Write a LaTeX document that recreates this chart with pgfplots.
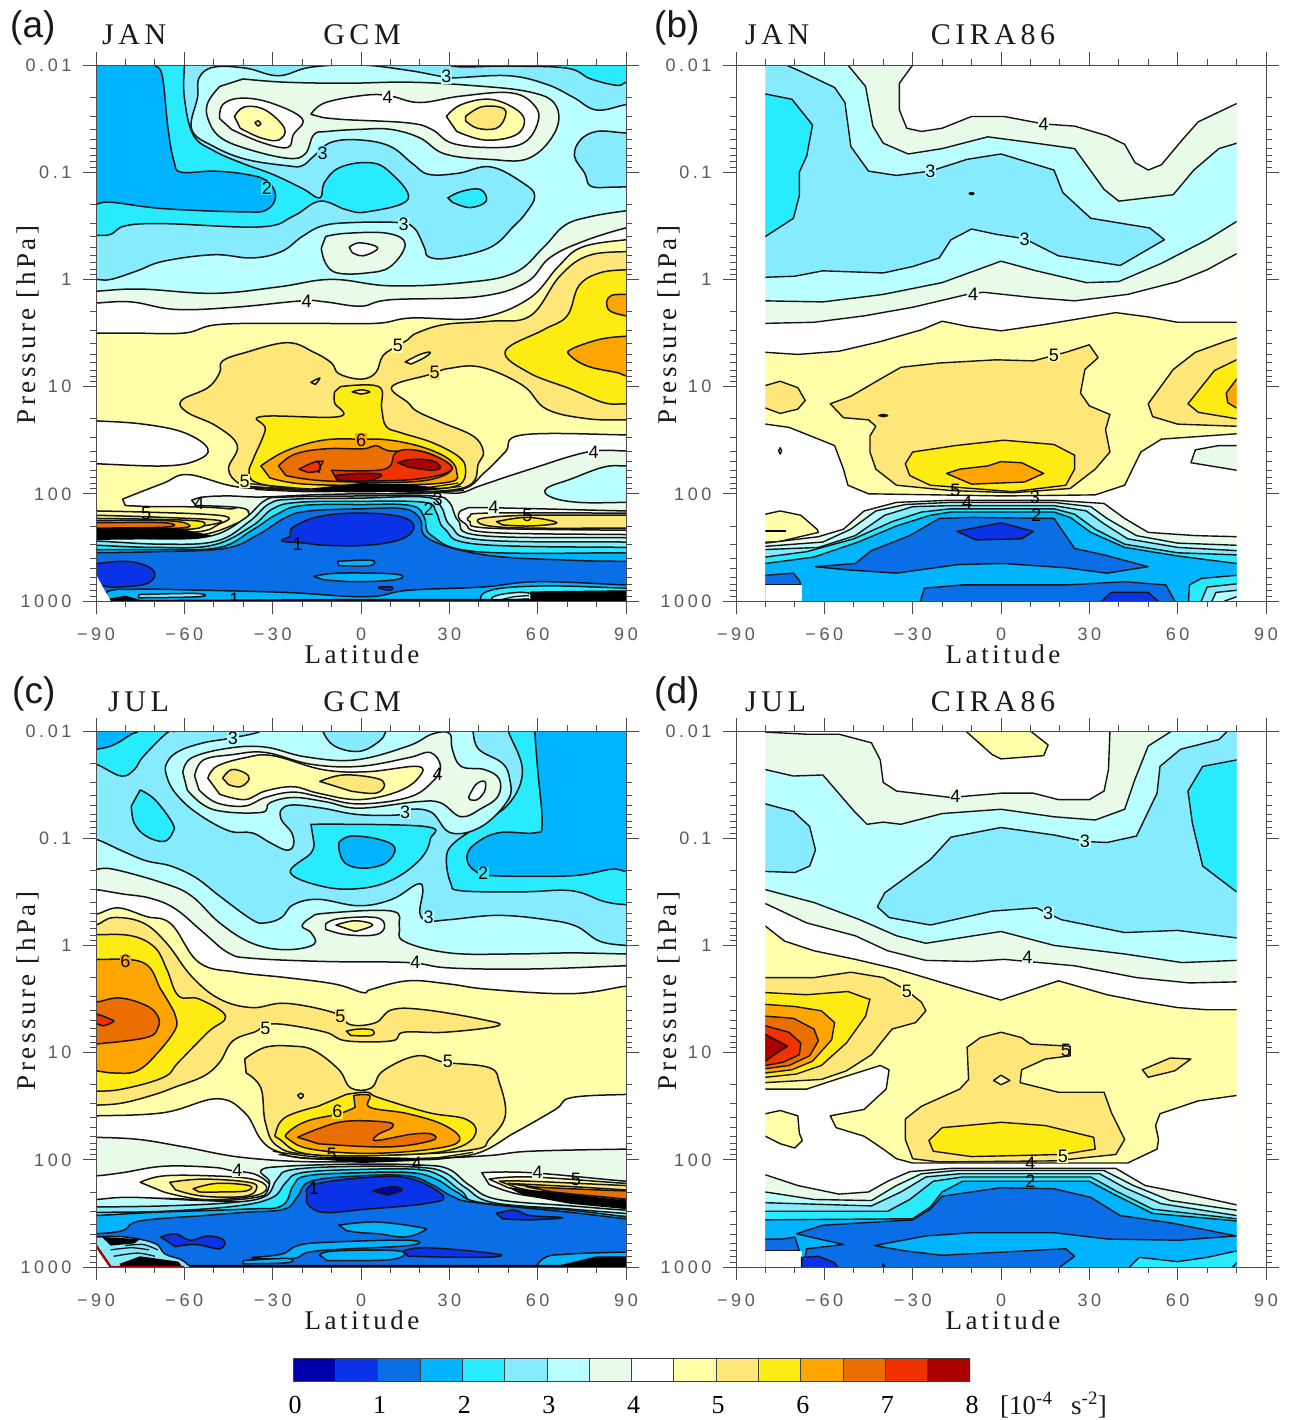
\documentclass[border=0pt]{standalone}
\usepackage{fontspec}
\usepackage{pgfplots}
\pgfplotsset{compat=1.18}
\setmainfont{Liberation Serif}
\newfontfamily\tickfont[LetterSpace=20]{Liberation Sans}
\newfontfamily\labfont{Liberation Sans}
\newfontfamily\ttlfont[LetterSpace=15]{Liberation Serif}
\newfontfamily\axfont[LetterSpace=13]{Liberation Serif}
\definecolor{c0}{HTML}{0000AA}\definecolor{c1}{HTML}{0A32E6}\definecolor{c2}{HTML}{0A6EE6}\definecolor{c3}{HTML}{00B4FF}
\definecolor{c4}{HTML}{28EBFF}\definecolor{c5}{HTML}{87EBFF}\definecolor{c6}{HTML}{B9FFFF}\definecolor{c7}{HTML}{E8FAE8}
\definecolor{c8}{HTML}{FFFFFF}\definecolor{c9}{HTML}{FFFFAA}\definecolor{c10}{HTML}{FFE678}\definecolor{c11}{HTML}{FFEB14}
\definecolor{c12}{HTML}{FFA500}\definecolor{c13}{HTML}{EB6E00}\definecolor{c14}{HTML}{F03200}\definecolor{c15}{HTML}{AA0000}
\definecolor{ctr}{gray}{0.08}
\definecolor{axc}{gray}{0.3}
\newcommand\reg[2]{\addplot[fill=#1,draw=ctr,line width=1.5pt,smooth,tension=.65,line join=round,mark=none] coordinates {#2} -- cycle;}
\newcommand\preg[2]{\addplot[fill=#1,draw=ctr,line width=1.4pt,line join=round,mark=none] coordinates {#2} -- cycle;}
\newcommand\flt[2]{\addplot[fill=#1,draw=none,mark=none] coordinates {#2} -- cycle;}
\newcommand\lne[1]{\addplot[draw=ctr,line width=1.3pt,smooth,mark=none] coordinates {#1};}
\newcommand\lab[4]{\node[font=\labfont\fontsize{18}{18}\selectfont,fill=#4,inner sep=0.6pt,text=black] at (axis cs:#1,#2) {#3};}
\newcommand\labn[3]{\node[font=\labfont\fontsize{18}{18}\selectfont,inner sep=0pt,text=black] at (axis cs:#1,#2) {#3};}
\pgfplotsset{
 inner/.style={scale only axis,hide axis,anchor=north west,height=536pt,ymin=-2,ymax=3,y dir=reverse},
 full/.style={inner,width=530pt,xmin=-90,xmax=90},
 part/.style={inner,width=471.1pt,xmin=-80,xmax=80},
 frameax/.style={scale only axis,anchor=north west,width=530pt,height=536pt,xmin=-90,xmax=90,ymin=-2,ymax=3,y dir=reverse,
  tick align=outside,tick pos=both,xticklabel pos=bottom,yticklabel pos=left,
  major tick length=13pt,minor tick length=6pt,
  axis line style={axc,line width=0.9pt},
  every tick/.style={axc,line width=0.9pt},
  xtick={-90,-60,-30,0,30,60,90},xticklabels={−90,−60,−30,0,30,60,90},
  minor xtick={-80,-70,-50,-40,-20,-10,10,20,40,50,70,80},
  ytick={-2,-1,0,1,2,3},yticklabels={0.01,0.1,1,10,100,1000},
  minor ytick={-1.699,-1.523,-1.398,-1.301,-1.222,-1.155,-1.097,-1.046,-0.699,-0.523,-0.398,-0.301,-0.222,-0.155,-0.097,-0.046,0.301,0.477,0.602,0.699,0.778,0.845,0.903,0.954,1.301,1.477,1.602,1.699,1.778,1.845,1.903,1.954,2.301,2.477,2.602,2.699,2.778,2.845,2.903,2.954},
  tick label style={font=\tickfont\fontsize{18}{18}\selectfont,text=black!65},
  xticklabel style={yshift=-10pt},yticklabel style={xshift=-8pt}}
}
\newcommand\T[5]{\node[anchor=#3,font=#4,inner sep=0pt,text=black!90] at (#1pt,-#2pt) {#5};}
\newcommand\axfontb{\axfont\fontsize{27}{27}\selectfont}
\newcommand\ttl{\ttlfont\fontsize{30}{30}\selectfont}
\newcommand\pan{\labfont\fontsize{37}{37}\selectfont}
\begin{document}
\begin{tikzpicture}
\path[use as bounding box] (0pt,0pt) rectangle (1289pt,-1420pt);
%% ---------- PANEL A
\begin{axis}[full,at={(96pt,-65pt)}]
\flt{c9}{(-95,-2.1)(95,-2.1)(95,3.1)(-95,3.1)}
\reg{c8}{(-95,.5)(-90,.5)(-78,.5)(-60,.5)(-48,.42)(-20,.41)(5,.41)(17,.36)(40,.36)(57,.18)(67,-.12)(75,-.3)(90,-.37)(95,-.37)(95,-2.1)(-95,-2.1)}
\reg{c7}{(-95,.22)(-90,.22)(-78,.21)(-63,.28)(-43,.26)(-20,.2)(-12,.21)(0,.25)(10,.19)(40,.16)(56,.03)(64,-.2)(75,-.35)(90,-.48)(95,-.48)(95,-2.1)(-95,-2.1)}
\reg{c6}{(-95,.11)(-90,.11)(-75,.09)(-50,.13)(-28,.07)(-10,0)(10,.06)(35,.03)(52,-.06)(62,-.3)(69,-.5)(77,-.58)(90,-.64)(95,-.64)(95,-2.1)(-95,-2.1)}
\reg{c5}{(95,-1.63)(90,-1.63)(80,-1.58)(72,-1.7)(63,-1.82)(50,-1.9)(31,-1.88)(26,-1.9)(16,-1.95)(0,-2)(-17,-1.98)(-28,-1.9)(-39,-1.97)(-50,-1.98)(-55,-1.88)(-55.5,-1.7)(-57.5,-1.4)(-50,-1.24)(-39,-1.12)(-25,-1.06)(-20,-1.06)(-16,-1.15)(-10,-1.28)(0,-1.3)(10,-1.24)(17.5,-1.08)(23,-.98)(33,-.99)(44,-1.05)(55,-.9)(59,-.78)(56,-.62)(52,-.5)(44,-.3)(30,-.2)(23,-.21)(21.5,-.3)(18,-.48)(12.5,-.53)(-3,-.53)(-13,-.5)(-20,-.4)(-27,-.26)(-37,-.2)(-50,-.23)(-67,-.17)(-76,-.08)(-85,0)(-90,0)(-95,0)(-95,-2.1)(95,-2.1)}
\reg{c4}{(31,-2.1)(31,-1.99)(50,-1.99)(70,-1.97)(78,-1.87)(87,-1.81)(90,-1.84)(95,-1.84)(95,-2.1)}
\reg{c5}{(95,-1.35)(88,-1.37)(80,-1.38)(74.5,-1.3)(72.5,-1.15)(76,-.99)(78,-.87)(85,-.86)(95,-.87)}
\reg{c4}{(-60,-2.1)(-60,-2)(-60,-1.7)(-57,-1.35)(-50,-1.2)(-40,-1.08)(-30,-.98)(-20,-.85)(-14,-.76)(-12.5,-.9)(-7.5,-1.04)(2,-1.09)(9,-1.02)(16,-.75)(2,-.63)(-5,-.65)(-14,-.73)(-23,-.59)(-34,-.49)(-67,-.52)(-80,-.5)(-85,-.42)(-90,-.41)(-95,-.41)(-95,-2.1)}
\reg{c4}{(29.5,-.76)(34,-.82)(40.5,-.84)(42.5,-.73)(37,-.67)(31,-.72)}
\reg{c3}{(-70,-2.1)(-70,-2)(-67.5,-1.9)(-65.5,-1.4)(-63.5,-1.1)(-61,-1)(-50,-1.01)(-39,-.98)(-32,-.92)(-29,-.78)(-32,-.65)(-40,-.63)(-67,-.66)(-85,-.72)(-90,-.7)(-95,-.7)(-95,-2.1)}
\reg{c7}{(-48,-1.8)(-52,-1.65)(-52,-1.5)(-48,-1.33)(-39,-1.22)(-25,-1.13)(-19,-1.17)(-16,-1.35)(-11.5,-1.38)(0,-1.4)(10,-1.4)(20,-1.32)(28.5,-1.17)(43.5,-1.12)(57,-1.13)(66,-1.38)(66,-1.63)(57,-1.75)(37,-1.81)(16,-1.84)(-5,-1.83)(-26,-1.84)(-40,-1.87)}
\reg{c8}{(-17,-1.54)(-12,-1.65)(2,-1.72)(10,-1.71)(20,-1.65)(34,-1.71)(51,-1.74)(59,-1.62)(60,-1.46)(55,-1.27)(44,-1.23)(31,-1.27)(24,-1.4)(16,-1.46)(-5,-1.49)(-13,-1.51)}
\reg{c8}{(-48,-1.5)(-47,-1.63)(-41,-1.69)(-31,-1.65)(-20,-1.5)(-23,-1.35)(-25,-1.23)(-34,-1.28)(-44,-1.4)}
\reg{c9}{(-43,-1.52)(-39.5,-1.61)(-32.5,-1.58)(-26,-1.41)(-28,-1.3)(-34,-1.32)(-41,-1.41)}
\reg{c10}{(-36,-1.46)(-35,-1.48)(-34,-1.45)(-35,-1.43)}
\reg{c9}{(29,-1.52)(34,-1.63)(44,-1.68)(53,-1.58)(55.5,-1.46)(52,-1.34)(42,-1.3)(32.5,-1.38)}
\reg{c10}{(35.5,-1.52)(41,-1.61)(48,-1.6)(49,-1.52)(46,-1.41)(39.5,-1.41)(35.5,-1.48)}
\reg{c7}{(-12,-.4)(-5,-.43)(9,-.43)(15,-.33)(10,-.12)(2,-.06)(-8,-.06)(-12,-.15)(-13.5,-.29)}
\reg{c8}{(-4,-.3)(-1,-.34)(4,-.32)(5.5,-.28)(.7,-.22)(-3,-.25)}
%
\reg{c8}{(-95,1.32)(-90,1.32)(-74,1.35)(-60,1.43)(-52,1.58)(-56,1.69)(-67,1.74)(-90,1.72)(-95,1.72)}
\reg{c8}{(-81,2.05)(-75.5,1.99)(-67,1.9)(-59,1.82)(-45,1.92)(-36,1.95)(-17,1.97)(0,1.98)(16,1.97)(34,1.96)(42,1.8)(49,1.61)(55,1.45)(90,1.45)(95,1.45)(95,3.1)(-38,3.1)(-38,2.2)(-45,2.14)(-60,2.12)(-70,2.12)(-80,2.11)}
\reg{c10}{(95,-.26)(90,-.26)(77,-.22)(67.5,-.03)(57.5,.34)(44,.39)(28.5,.42)(19,.5)(16,.56)(12.5,.62)(7.5,.71)(5,.87)(0,.93)(-7.5,.88)(-10,.78)(-16,.68)(-25,.59)(-39,.68)(-47,.76)(-48,.87)(-52,1.01)(-61,1.13)(-59,1.24)(-49,1.37)(-42,1.55)(-45,1.77)(-41,1.91)(-34,1.94)(0,1.97)(34,1.95)(40,1.71)(41.5,1.6)(38,1.46)(27,1.33)(19,1.23)(16,1.15)(10.5,1)(23,.89)(30,.83)(41,.82)(55,.99)(63,1.21)(77,1.3)(90,1.31)(95,1.31)}
\reg{c9}{(15,.77)(20,.7)(23.5,.68)(21.5,.73)(17,.79)}
\reg{c9}{(-17,.96)(-14,.92)(-15.5,.98)}
\reg{c11}{(95,-.09)(90,-.09)(81,-.06)(74,.06)(70,.34)(62,.47)(49,.67)(57,.87)(71,1.02)(82.5,1.15)(90,1.16)(95,1.16)}
\reg{c12}{(95,.53)(90,.53)(81,.56)(71.5,.65)(71,.71)(77,.81)(87,.87)(90,.9)(95,.9)}
\reg{c12}{(95,.15)(85,.15)(84,.28)(90,.34)(95,.34)}
\reg{c11}{(-7,1)(6,1)(7,1.2)(8.5,1.37)(13.5,1.43)(24,1.52)(33,1.65)(35.5,1.77)(33,1.92)(20,1.96)(0,1.97)(-20,1.96)(-35,1.9)(-38,1.8)(-36.5,1.67)(-32.5,1.4)(-34,1.28)(-7.5,1.28)(-9,1.15)(-9,1.05)}
\reg{c10}{(-3,1.05)(0,1.03)(3,1.05)(0,1.07)}
\reg{c12}{(-34,1.74)(-25.5,1.6)(-13,1.5)(0,1.49)(10,1.5)(21.5,1.57)(30,1.68)(32.5,1.8)(30,1.89)(9,1.92)(-19,1.91)(-31,1.85)}
\reg{c13}{(-28,1.74)(-22.5,1.63)(-12,1.58)(.7,1.58)(5,1.55)(10,1.6)(21.5,1.61)(30,1.74)(28,1.83)(16,1.89)(-12,1.88)(-25.5,1.83)}
\reg{c14}{(-10,1.78)(8,1.77)(12,1.61)(20,1.6)(29.5,1.71)(29.5,1.8)(16,1.87)(-8,1.88)}
\reg{c14}{(-21,1.77)(-15,1.7)(-14,1.78)(-18,1.8)}
\reg{c15}{(12.5,1.71)(17,1.68)(24,1.69)(27,1.75)(24,1.78)(16,1.75)}
\reg{c15}{(-9,1.83)(-1,1.81)(7,1.82)(2,1.88)(-8,1.87)}
\lne{(-40,1.9)(-20,1.95)(-10,1.96)}\lne{(-38,1.93)(-20,1.97)(-10,1.97)}\lne{(-36,1.96)(-20,1.98)(-10,1.98)}
\lne{(33,1.9)(20,1.95)(10,1.96)}\lne{(34,1.93)(20,1.97)(10,1.97)}\lne{(35,1.97)(20,1.985)(10,1.98)}
%
\reg{c7}{(-57.5,2.06)(-53.5,2.03)(-45,2.02)(-34,2.03)(-17,2.01)(0,2)(16,2)(27,1.99)(34,1.99)(41,1.92)(57.5,1.77)(77,1.61)(90,1.6)(95,1.6)(95,3.1)(-95,3.1)(-95,2.34)(-90,2.35)(-67,2.37)(-53.5,2.38)(-41,2.26)(-38,2.19)(-41,2.13)(-56,2.11)}
\reg{c6}{(95,1.74)(90,1.74)(82.5,1.75)(71.5,1.86)(63,1.95)(64.5,2.03)(74,2.08)(90,2.08)(95,2.08)}
\reg{c6}{(-95,2.39)(-90,2.39)(-67,2.42)(-50.5,2.39)(-39.5,2.23)(-32.5,2.06)(-25.5,2.03)(0,2.02)(24,2.02)(30,2.08)(33,2.25)(41,2.39)(90,2.41)(95,2.41)(95,3.1)(-95,3.1)}
\reg{c5}{(-95,2.44)(-90,2.44)(-67,2.47)(-49,2.44)(-38,2.26)(-31,2.09)(-23,2.05)(0,2.04)(21.5,2.03)(27,2.11)(30.5,2.3)(41,2.43)(90,2.45)(95,2.45)(95,3.1)(-95,3.1)}
\reg{c4}{(-95,2.48)(-90,2.48)(-70,2.5)(-50.5,2.48)(-37,2.3)(-30,2.14)(-21.5,2.08)(0,2.07)(21.5,2.08)(25.5,2.17)(28.5,2.33)(39.5,2.47)(90,2.5)(95,2.5)(95,3.1)(-95,3.1)}
\reg{c3}{(-95,2.52)(-90,2.52)(-67,2.52)(-48,2.5)(-37,2.34)(-28.5,2.19)(-20,2.11)(0,2.1)(17,2.11)(21.5,2.22)(24,2.39)(39.5,2.54)(90,2.55)(95,2.55)(95,3.1)(-95,3.1)}
\reg{c2}{(-95,2.55)(-90,2.55)(-70,2.54)(-46.5,2.51)(-35.5,2.39)(-25.5,2.22)(-17.5,2.16)(0,2.14)(14.5,2.14)(20,2.23)(23,2.42)(42,2.57)(71.5,2.62)(90,2.63)(95,2.63)(95,3.1)(-95,3.1)}
\reg{c1}{(-24,2.36)(-22.5,2.3)(-14,2.21)(-.7,2.18)(13,2.21)(18,2.3)(14,2.42)(2,2.48)(-12,2.48)(-19,2.46)(-27,2.44)(-24,2.4)}
\reg{c1}{(-95,2.65)(-90,2.65)(-80,2.63)(-73,2.67)(-70,2.75)(-73,2.84)(-83,2.87)(-89,2.85)(-95,2.8)}
\reg{c3}{(-8,2.63)(3.5,2.62)(3,2.67)(-7.5,2.67)}
\reg{c3}{(-16,2.77)(-7.5,2.74)(12,2.75)(12,2.8)(-2,2.82)(-13,2.8)}
\reg{c3}{(-86.5,3.1)(-86.5,2.92)(-75.5,2.89)(-53.5,2.9)(-25.5,2.92)(2,2.96)(16,2.9)(41,2.87)(60,2.82)(90,2.85)(95,2.85)(95,3.1)}
\reg{c1}{(6,2.87)(10.5,2.87)(10,2.9)(6,2.88)}
\reg{c4}{(42,3.1)(42,2.92)(60,2.86)(90,2.88)(95,2.88)(95,3.1)}
\reg{c6}{(45,3.1)(45,2.96)(57.5,2.93)(57.5,3.1)}
\lne{(46,3)(52,2.96)(57,2.95)}\lne{(47,3.03)(52,2.99)(57,2.98)}
\flt{black}{(57.5,2.91)(90,2.9)(95,2.9)(95,3.1)(57.5,3.1)}
\flt{black}{(-86,2.98)(-80,2.95)(-75,2.99)(0,2.98)(60,2.98)(60,3.1)(-86,3.1)}
\reg{c5}{(-75.5,2.94)(-56,2.93)(-55,2.96)(-75.5,2.97)}
\flt{white}{(-95,2.75)(-90,2.75)(-87.5,2.88)(-85,3)(-85,3.1)(-95,3.1)}
% lobes
\reg{c8}{(95,2.16)(90,2.16)(43.5,2.13)(35.5,2.14)(33,2.2)(35.5,2.28)(43.5,2.36)(90,2.38)(95,2.38)}
\reg{c9}{(95,2.18)(90,2.18)(43.5,2.18)(37,2.21)(37,2.26)(43.5,2.32)(90,2.34)(95,2.34)}
\reg{c10}{(95,2.2)(90,2.2)(71.5,2.2)(56,2.2)(43.5,2.22)(39.5,2.25)(43.5,2.3)(57.5,2.32)(90,2.32)(95,2.32)}
\reg{c11}{(46,2.26)(56.5,2.22)(66.5,2.27)(57.5,2.3)(48,2.29)}
\reg{c9}{(-95,2.16)(-90,2.16)(-74,2.17)(-53.5,2.19)(-45,2.22)(-48,2.28)(-57.5,2.36)(-90,2.36)(-95,2.36)}
\reg{c10}{(-95,2.2)(-90,2.2)(-67,2.22)(-48,2.25)(-53.5,2.3)(-67,2.34)(-90,2.35)(-95,2.35)}
\reg{c11}{(-95,2.23)(-90,2.23)(-67,2.24)(-54,2.26)(-55,2.32)(-63,2.33)(-90,2.34)(-95,2.34)}
\reg{c12}{(-95,2.25)(-90,2.25)(-67,2.25)(-59,2.28)(-62,2.32)(-90,2.33)(-95,2.33)}
\reg{c13}{(-95,2.27)(-90,2.27)(-67,2.27)(-66,2.31)(-90,2.32)(-95,2.32)}
\flt{black}{(-95,2.32)(-90,2.32)(-62,2.32)(-50.5,2.39)(-56,2.42)(-90,2.43)(-95,2.43)}
\flt{black}{(-17,1.95)(0,1.9)(16,1.91)(28,1.95)(16,1.98)(0,1.985)(-14,1.98)}
\lab{29}{-1.89}{3}{c6}\lab{9}{-1.7}{4}{c8}\lab{-13}{-1.18}{3}{c5}\lab{-32}{-.85}{2}{c4}\lab{14.5}{-.51}{3}{c6}\lab{-18.5}{.2}{4}{c7}
\lab{12.5}{.62}{5}{c9}\lab{25}{.87}{5}{c10}\lab{0}{1.5}{6}{c12}\labn{-14}{1.75}{7}\lab{-39.5}{1.88}{5}{c9}\lab{79}{1.61}{4}{c8}
\labn{-55}{2.09}{4}\labn{-73}{2.18}{5}\labn{26}{2.05}{3}\labn{23}{2.14}{2}\lab{45}{2.13}{4}{c7}\labn{56.5}{2.2}{5}\labn{-21.5}{2.47}{1}\labn{-43}{2.98}{1}
\end{axis}
\begin{axis}[frameax,at={(96pt,-65pt)}]\end{axis}
%% ---------- PANEL B
\begin{axis}[part,at={(765.44pt,-65pt)}]
\flt{c9}{(-85,-2.1)(85,-2.1)(85,3.1)(-85,3.1)}
\preg{c8}{(-85,.68)(-80,.68)(-69,.7)(-55,.67)(-41,.58)(-27,.47)(-20,.39)(-11,.44)(0,.48)(15,.42)(39,.31)(50,.35)(60,.4)(80,.4)(85,.4)(85,-2.1)(-85,-2.1)}
\preg{c7}{(-85,.41)(-80,.41)(-63.5,.4)(-46.5,.34)(-30,.26)(-11.5,.14)(-6,.12)(11,.17)(25,.2)(43,.14)(60,.02)(70,-.09)(80,-.24)(85,-.27)(85,-2.1)(-85,-2.1)}
\preg{c8}{(-30,-2.1)(-30,-2)(-34.5,-1.83)(-34.5,-1.58)(-32,-1.41)(-27,-1.38)(-20,-1.41)(-10,-1.52)(1,-1.52)(14.5,-1.45)(25,-1.43)(36,-1.34)(42,-1.26)(45.5,-1.09)(50,-1.02)(54.5,-1.07)(61.5,-1.3)(67,-1.47)(80,-1.64)(85,-1.67)(85,-2.1)}
\preg{c6}{(-52,-2.1)(-52,-2)(-46,-1.8)(-43.5,-1.43)(-40,-1.27)(-31.5,-1.17)(-20,-1.22)(-4.5,-1.33)(12,-1.27)(25,-1.22)(35,-.84)(40,-.73)(58.5,-.79)(65.5,-1.02)(74,-1.22)(80,-1.27)(85,-1.3)(85,-.5)(80,-.54)(70,-.37)(54.5,-.15)(40,.02)(29,.03)(12,-.08)(0,-.17)(-20,.03)(-40,.14)(-60.5,.21)(-80,.2)(-85,.2)(-85,-2.1)}
\preg{c5}{(-73,-2.1)(-73,-2)(-68,-1.94)(-56.5,-1.79)(-53,-1.65)(-51,-1.24)(-45,-1.01)(-35.5,-.97)(-24,-1.01)(-11.5,-1.12)(0,-1.17)(18,-1.02)(21,-.81)(30.5,-.57)(50.5,-.48)(55.5,-.37)(40.5,-.13)(19.5,-.22)(8,-.38)(-1.5,-.42)(-10,-.47)(-17,-.37)(-21,-.2)(-30,-.12)(-40,-.06)(-60.5,-.08)(-70,-.03)(-80,-.02)(-85,-.02)(-85,-2.1)}
\preg{c4}{(-85,-1.73)(-80,-1.73)(-71,-1.68)(-64,-1.44)(-66,-1.15)(-68.5,-1)(-68.5,-.78)(-70.5,-.57)(-80,-.4)(-85,-.4)}
\reg{black}{(-10.8,-.8)(-10,-.81)(-9.2,-.8)(-10,-.79)}
%
\preg{c8}{(-85,1.35)(-80,1.35)(-72,1.38)(-56.5,1.55)(-53.5,1.77)(-52,1.92)(-45,2)(1,2.02)(32,2.01)(42,1.92)(47.5,1.61)(54.5,1.49)(80,1.44)(85,1.44)(85,3.1)(-85,3.1)}
\preg{c7}{(66,1.59)(74,1.55)(80,1.55)(85,1.55)(85,1.78)(80,1.78)(64.5,1.71)}
\preg{c10}{(-58,1.16)(-51,1.09)(-41,.93)(-34,.82)(-21,.78)(-1.7,.75)(11,.76)(22,.68)(30,.61)(33,.73)(28.5,.84)(27,1.06)(30,1.18)(37,1.26)(35.5,1.4)(37,1.61)(32,1.77)(23.5,1.95)(4,1.99)(-17,1.97)(-35.5,1.92)(-42.5,1.77)(-44.5,1.61)(-44.5,1.46)(-42.5,1.37)(-45,1.31)(-53.5,1.29)}
\preg{c10}{(-85,.99)(-80,.99)(-75,.95)(-69,1.01)(-66.5,1.13)(-69,1.21)(-75,1.25)(-80,1.2)(-85,1.2)}
\preg{c10}{(85,.5)(76,.58)(66,.68)(58.5,.84)(50,1.16)(51.5,1.28)(60,1.35)(80,1.37)(85,1.37)}
\preg{c11}{(85,.75)(80,.75)(72.5,.85)(63.5,1.16)(67,1.24)(80,1.3)(85,1.3)}
\preg{c12}{(85,.93)(80,.93)(76.5,1.06)(77,1.15)(80,1.2)(85,1.2)}
\preg{c11}{(-32.5,1.72)(-30,1.61)(-15.5,1.55)(1,1.5)(18,1.54)(25,1.64)(25,1.77)(22,1.92)(4,1.98)(-24,1.92)(-31,1.83)}
\preg{c12}{(-18.5,1.81)(-14,1.77)(-4.5,1.74)(0,1.7)(7,1.71)(14.5,1.81)(8,1.89)(-10,1.91)}
\reg{black}{(-41.5,1.27)(-40,1.26)(-38.5,1.27)(-40,1.28)}
\preg{c8}{(-75.5,1.6)(-75,1.57)(-74.5,1.6)(-75,1.63)}
\preg{c9}{(-85,2.19)(-80,2.19)(-75,2.16)(-68,2.2)(-62.5,2.33)(-62,2.36)(-76,2.45)(-80,2.45)(-85,2.45)}
\flt{black}{(-85,2.34)(-73,2.34)(-73,2.36)(-85,2.36)}
\preg{c7}{(-85,2.46)(-80,2.46)(-62,2.4)(-53.5,2.33)(-46.5,2.16)(-35.5,2.08)(-17,2.06)(18,2.06)(35,2.09)(42,2.23)(50,2.36)(66,2.39)(80,2.4)(85,2.4)(85,3.1)(-85,3.1)}
\preg{c6}{(-85,2.49)(-80,2.49)(-60.5,2.45)(-51,2.33)(-42.5,2.16)(-32.5,2.1)(-17,2.08)(18,2.08)(30.5,2.12)(36,2.23)(46,2.39)(60,2.46)(80,2.48)(85,2.48)(85,3.1)(-85,3.1)}
\preg{c5}{(-85,2.52)(-80,2.52)(-62,2.5)(-49.5,2.39)(-39.5,2.2)(-30,2.12)(-17,2.11)(18,2.11)(29,2.16)(35,2.28)(43,2.42)(60,2.5)(80,2.53)(85,2.53)(85,3.1)(-85,3.1)}
\preg{c4}{(-85,2.59)(-80,2.59)(-66,2.54)(-50,2.42)(-37,2.26)(-27,2.17)(-17,2.14)(18,2.14)(25,2.19)(32,2.33)(42,2.47)(60,2.55)(80,2.57)(85,2.57)(85,3.1)(-85,3.1)}
\preg{c3}{(-85,2.65)(-80,2.65)(-63.5,2.59)(-48.5,2.45)(-35.5,2.3)(-24,2.2)(-17,2.17)(18,2.17)(23.5,2.22)(30.5,2.36)(42,2.5)(60,2.58)(80,2.65)(85,2.65)(85,3.1)(-85,3.1)}
\preg{c2}{(-63,2.68)(-49.5,2.65)(-44,2.53)(-31,2.39)(-21,2.23)(-10,2.22)(18,2.23)(22,2.39)(25,2.51)(35,2.57)(50,2.68)(36,2.74)(22,2.69)(1,2.65)(-14.5,2.66)(-35.5,2.74)(-52,2.71)}
\preg{c1}{(-15,2.35)(0,2.27)(11,2.35)(7,2.42)(-8.5,2.43)}
\preg{c2}{(-28.5,3.1)(-26,2.88)(-13,2.85)(22,2.85)(42,2.82)(56,2.85)(61,3.1)}
\preg{c1}{(30,3.1)(37.5,2.92)(50,2.92)(57.5,3.1)}
\preg{c2}{(-85,2.76)(-80,2.76)(-70.5,2.74)(-68.5,2.81)(-68,2.85)(-85,2.85)}
\flt{white}{(-85,2.85)(-67.7,2.85)(-67.7,3.1)(-85,3.1)}
\preg{c4}{(63.5,3.1)(64,2.85)(68,2.79)(80,2.76)(85,2.76)(85,3.1)}
\preg{c5}{(66.5,3.1)(70,2.87)(80,2.84)(85,2.84)(85,3.1)}
\preg{c6}{(70,3.1)(73,2.92)(80,2.9)(85,2.9)(85,3.1)}
\preg{c7}{(73.5,3.1)(76,3)(80,2.96)(85,2.96)(85,3.1)}
\lab{14.5}{-1.45}{4}{c7}\lab{-24}{-1.01}{3}{c6}\lab{8}{-.37}{3}{c6}\lab{-9.5}{.14}{4}{c7}\lab{18}{.71}{5}{c9}
\labn{-15.5}{1.97}{5}\labn{-11.5}{2.08}{4}\labn{11.5}{2.03}{3}\labn{12}{2.2}{2}
\end{axis}
\begin{axis}[frameax,at={(736pt,-65pt)}]\end{axis}
%% ---------- PANEL C
\begin{axis}[full,at={(96pt,-731pt)}]
\flt{c9}{(-95,-2.1)(95,-2.1)(95,3.1)(-95,3.1)}
\reg{c8}{(-95,-.29)(-90,-.29)(-82.5,-.35)(-73,-.27)(-64.5,-.2)(-55,.16)(-42,.25)(-25.5,.3)(-9,.36)(.7,.44)(3.5,.41)(16,.33)(30,.36)(43.5,.41)(71.5,.45)(90,.38)(95,.38)(95,-2.1)(-95,-2.1)}
\reg{c7}{(-95,-.52)(-90,-.52)(-81,-.48)(-71.5,-.44)(-63,-.34)(-53.5,-.12)(-45,.07)(-37,.12)(-12,.15)(16,.16)(30,.21)(57.5,.22)(90,.19)(95,.19)(95,-2.1)(-95,-2.1)}
\reg{c6}{(-95,-.71)(-90,-.71)(-84,-.71)(-67,-.58)(-57.5,-.46)(-48,-.21)(-37,-.02)(-25.5,.04)(-16,-.01)(-17,-.12)(-20,-.18)(-17,-.26)(-12,-.3)(10.5,-.32)(13,-.18)(14.5,-.04)(30,.07)(51,.08)(71.5,.07)(90,.08)(95,.08)(95,-2.1)(-95,-2.1)}
\reg{c5}{(-95,-.99)(-90,-.99)(-81,-.88)(-73,-.79)(-64.5,-.74)(-56,-.63)(-48,-.46)(-37,-.24)(-32.5,-.21)(-27,-.26)(-23,-.38)(-14.5,-.43)(-.7,-.37)(10.5,-.43)(19,-.57)(21,-.52)(20,-.3)(23,-.23)(30,-.24)(46.5,-.28)(63,-.24)(73,-.18)(81,-.04)(90,0)(95,0)(95,-2.1)(-95,-2.1)}
\reg{c4}{(-95,-1.69)(-90,-1.69)(-81.5,-1.58)(-77,-1.64)(-74,-1.76)(-66,-1.98)(-63,-2)(-63,-2.1)(-95,-2.1)}
\reg{c3}{(-95,-1.83)(-90,-1.83)(-84,-1.87)(-78,-1.97)(-75.5,-2)(-75.5,-2.1)(-95,-2.1)}
\reg{c4}{(-75,-1.45)(-70,-1.36)(-64,-1.14)(-64,-1.05)(-67,-.97)(-73,-1.02)(-77,-1.14)(-78,-1.3)}
\reg{c4}{(50,-2.1)(50,-2)(54.8,-1.64)(50.5,-1.33)(39.5,-1.11)(31,-.94)(29,-.8)(30.5,-.58)(34,-.51)(55,-.5)(71.5,-.51)(82.5,-.41)(90,-.38)(95,-.38)(95,-2.1)}
\reg{c3}{(59,-2.1)(59,-2)(60,-1.64)(61.5,-1.14)(59,-1.05)(46.5,-1.05)(38,-.93)(36,-.8)(39,-.69)(45,-.65)(71.5,-.65)(85,-.71)(90,-.69)(95,-.69)(95,-2.1)}
\reg{c4}{(-17,-1.13)(21.5,-1.11)(23.5,-.99)(20,-.8)(10.5,-.61)(-.7,-.53)(-13,-.55)(-24,-.68)(-17,-.86)(-16,-.96)}
\reg{c3}{(-7.5,-.96)(-3.5,-1.02)(6,-.99)(11.5,-.91)(8.5,-.77)(.7,-.72)(-5.5,-.77)(-7.5,-.9)}
\reg{c6}{(-34,-2.1)(-34,-2)(-45,-1.93)(-53.5,-1.89)(-62,-1.81)(-66,-1.7)(-66,-1.58)(-63,-1.42)(-56,-1.24)(-45,-1.07)(-37,-1.05)(-31,-.96)(-25.5,-.89)(-23,-.93)(-23.5,-1.05)(-27,-1.17)(-27,-1.27)(-23,-1.31)(-13,-1.28)(-.7,-1.22)(14,-1.22)(16.5,-1.27)(24,-1.24)(30.5,-1.05)(41,-1.11)(50,-1.36)(50.5,-1.55)(48,-1.7)(40,-1.83)(38,-2)(38,-2.1)(8.5,-2.1)(8.5,-2)(6,-1.9)(-.7,-1.81)(-9,-1.86)(-13,-2)(-13,-2.1)}
\reg{c7}{(-60.5,-1.61)(-57.5,-1.75)(-45,-1.84)(-32.5,-1.85)(-19,-1.76)(-2,-1.73)(16,-1.86)(24,-1.97)(30,-1.98)(31,-1.83)(34,-1.67)(42,-1.64)(47,-1.55)(46.5,-1.39)(41,-1.28)(34,-1.2)(27,-1.33)(19,-1.34)(-.7,-1.28)(-12,-1.34)(-23,-1.38)(-31,-1.33)(-34,-1.24)(-50.5,-1.27)(-59,-1.45)}
\reg{c8}{(-56.5,-1.58)(-53.5,-1.73)(-43.5,-1.78)(-32.5,-1.8)(-17,-1.69)(-.7,-1.67)(16,-1.75)(23.5,-1.8)(27,-1.67)(24,-1.52)(16,-1.38)(-.7,-1.32)(-13,-1.38)(-23,-1.43)(-32.5,-1.38)(-39.5,-1.3)(-49,-1.33)(-55,-1.45)}
\reg{c9}{(-52,-1.56)(-49,-1.67)(-39.5,-1.75)(-30,-1.77)(-13,-1.64)(2,-1.62)(19,-1.67)(20,-1.58)(13,-1.44)(-.7,-1.36)(-14.5,-1.42)(-23,-1.48)(-32.5,-1.44)(-39.5,-1.36)(-48,-1.41)}
\reg{c10}{(-47,-1.56)(-44,-1.64)(-39.5,-1.61)(-38,-1.55)(-41,-1.48)(-45,-1.5)}
\reg{c10}{(-14,-1.53)(-6,-1.59)(5,-1.56)(8,-1.5)(5,-1.42)(-3.5,-1.44)}
\reg{c8}{(36.5,-1.38)(39,-1.5)(42,-1.53)(42,-1.44)(39.5,-1.36)(37,-1.36)}
\reg{c8}{(-12,-.2)(-7.5,-.25)(5,-.26)(8,-.18)(5,-.1)(-5,-.1)(-12,-.15)}
\reg{c9}{(-8.5,-.19)(-2,-.23)(4,-.19)(-2,-.13)}
%
\reg{c8}{(-95,1.59)(-90,1.59)(-67,1.56)(-49,1.43)(-39.5,1.56)(-34,1.81)(-28.5,1.92)(-17,1.99)(16,1.99)(38,1.95)(52,1.75)(66,1.53)(71.5,1.42)(90,1.39)(95,1.39)(95,3.1)(-95,3.1)}
\reg{c10}{(-95,-.19)(-90,-.19)(-84,-.26)(-74,-.21)(-66,-.02)(-57.5,.29)(-48,.5)(-37,.58)(-25.5,.54)(-9,.63)(-3.5,.74)(5,.72)(10.5,.6)(21.5,.6)(41,.69)(46.5,.75)(28.5,.81)(14.5,.81)(10.5,.89)(-5,.89)(-12,.81)(-25.5,.74)(-32.5,.74)(-35.5,.8)(-43.5,.89)(-48,1.09)(-53.5,1.22)(-63,1.32)(-70,1.39)(-81,1.47)(-90,1.49)(-95,1.49)}
\reg{c11}{(-5,.8)(-.7,.78)(4,.79)(3.5,.84)(-3.5,.84)}
\reg{c11}{(-95,-.1)(-90,-.1)(-78,-.09)(-70,.02)(-66,.22)(-62,.47)(-55,.5)(-46,.66)(-52,.81)(-62,1.09)(-67,1.23)(-81,1.34)(-90,1.36)(-95,1.36)}
\reg{c12}{(-95,.13)(-90,.13)(-74,.16)(-68,.41)(-64.5,.57)(-63,.66)(-63,.78)(-69,1)(-76,1.17)(-84,1.19)(-90,1.17)(-95,1.17)}
\reg{c13}{(-95,.53)(-90,.53)(-82,.49)(-73,.56)(-69,.66)(-69,.77)(-73,.86)(-90,.92)(-95,.92)}
\reg{c14}{(-95,.64)(-90,.64)(-85,.69)(-84,.71)(-87.5,.75)(-90,.73)(-95,.73)}
\reg{c10}{(-39.5,1.06)(-32.5,.95)(-23,.94)(-16,.98)(-7.5,1.16)(-3.5,1.33)(3.5,1.33)(7.5,1.17)(19,1.03)(28.5,1.09)(43.5,1.14)(47,1.28)(49,1.59)(43.5,1.81)(39,1.9)(16,1.95)(-17,1.95)(-28.5,1.87)(-32.5,1.65)(-34,1.33)(-39,1.19)}
\reg{c9}{(-21.5,1.4)(-20.5,1.38)(-19.5,1.4)(-20.5,1.43)}
\reg{c11}{(-5,1.39)(2,1.37)(6,1.42)(23,1.56)(35.5,1.62)(39,1.75)(32.5,1.89)(16,1.95)(-17,1.95)(-27.5,1.81)(-29,1.75)(-25.5,1.6)(-14.5,1.5)}
\reg{c12}{(-2.5,1.4)(3,1.4)(3,1.51)(16,1.57)(28.5,1.68)(33.5,1.82)(24,1.9)(2,1.94)(-17,1.9)(-24.5,1.81)(-25,1.75)(-18.5,1.64)(-7.5,1.57)(-2,1.51)}
\reg{c13}{(-21.5,1.79)(-14.5,1.71)(-5,1.64)(9,1.65)(10.5,1.7)(6,1.76)(5,1.82)(17.5,1.76)(24,1.76)(24,1.82)(9,1.88)(-14.5,1.85)}
%
\reg{c7}{(-95,1.79)(-90,1.79)(-75.5,1.81)(-60,1.88)(-39.5,1.98)(-12,2.02)(21.5,1.99)(43.5,1.96)(57.5,1.92)(90,1.9)(95,1.9)(95,3.1)(-95,3.1)}
\reg{c8}{(-95,2.15)(-90,2.15)(-81,2.12)(-67,2.06)(-50.5,2.07)(-44,2.1)(-35.5,2.14)(-30.5,2.26)(-34,2.34)(-48,2.38)(-67,2.36)(-90,2.38)(-95,2.38)}
\reg{c8}{(41,2.12)(57.5,2.12)(90,2.2)(95,2.2)(95,2.45)(90,2.44)(71.5,2.38)(53.5,2.32)(43.5,2.23)}
\reg{c6}{(-95,2.37)(-90,2.37)(-78,2.35)(-53.5,2.38)(-36,2.38)(-31,2.22)(-34,2.1)(-25.5,2.06)(0,2.04)(21.5,2.05)(30,2.09)(37,2.24)(46.5,2.37)(71.5,2.43)(90,2.47)(95,2.47)(95,3.1)(-95,3.1)}
\reg{c5}{(-95,2.44)(-90,2.44)(-67,2.43)(-44.5,2.4)(-32.5,2.34)(-28.5,2.18)(-23,2.09)(0,2.06)(20,2.07)(28.5,2.12)(35.5,2.26)(45,2.4)(71.5,2.46)(90,2.5)(95,2.5)(95,3.1)(-95,3.1)}
\reg{c4}{(-95,2.49)(-90,2.49)(-67,2.48)(-42,2.43)(-30,2.35)(-25.5,2.21)(-20,2.12)(0,2.09)(19,2.09)(27,2.15)(34,2.29)(43.5,2.43)(90,2.53)(95,2.53)(95,3.1)(-95,3.1)}
\reg{c3}{(-95,2.52)(-90,2.52)(-70,2.49)(-39.5,2.46)(-27,2.43)(-23,2.24)(-18.5,2.15)(0,2.12)(17,2.12)(25.5,2.18)(32.5,2.3)(41,2.4)(71,2.47)(90,2.53)(95,2.53)(95,3.1)(-95,3.1)}
\reg{c2}{(-95,2.69)(-90,2.69)(-81,2.66)(-75,2.57)(-53.5,2.52)(-39.5,2.49)(-26,2.46)(-21.5,2.34)(-17,2.2)(0,2.15)(16,2.15)(24,2.23)(31,2.34)(39,2.4)(71,2.49)(90,2.55)(95,2.55)(95,3.1)(-95,3.1)}
\reg{c1}{(-18.5,2.3)(-16,2.23)(-.7,2.17)(16,2.17)(28,2.34)(21.5,2.41)(2,2.46)(-13,2.49)(-18.5,2.4)}
\reg{c0}{(4,2.29)(10.5,2.25)(14,2.28)(9,2.33)}
\reg{c1}{(46,2.5)(52,2.47)(57.5,2.52)(68.5,2.54)(57.5,2.56)(48,2.55)}
\reg{c1}{(-68,2.72)(-63,2.69)(-58,2.75)(-52,2.71)(-46.5,2.75)(-48,2.83)(-56,2.79)(-63,2.81)}
\reg{c3}{(-7.5,2.61)(5,2.58)(20,2.63)(21.5,2.66)(15,2.72)(6,2.69)(0,2.68)(-5,2.66)}
\reg{c3}{(-37,2.91)(-27,2.88)(-21.5,2.8)(-12,2.77)(16,2.75)(16,2.8)(-15,2.85)(-23,2.92)(-37,2.92)}
\reg{c3}{(-14,2.89)(-9,2.85)(13,2.85)(10.5,2.93)(-11.5,2.94)}
\reg{c1}{(14.5,2.85)(23,2.82)(46.5,2.88)(41,2.91)(16,2.9)}
\reg{c3}{(57,3.1)(62,2.92)(70,2.88)(90,2.86)(95,2.86)(95,3.1)}
\flt{black}{(68,2.98)(80,2.9)(90,2.9)(95,2.9)(95,3.1)(68,3.1)}
\flt{black}{(-60,2.98)(0,2.98)(70,2.98)(70,3.1)(-60,3.1)}
\reg{c3}{(-40,2.94)(-25,2.92)(-25,2.96)(-40,2.97)}
\reg{c5}{(-90,2.72)(-80,2.72)(-70,2.78)(-66.5,2.88)(-60,2.95)(-58,3.1)(-85,3.1)(-90,2.82)}
\flt{black}{(-88,2.72)(-75,2.74)(-77,2.78)(-85,2.8)}
\flt{black}{(-75,2.9)(-62,2.95)(-58,3.1)(-80,3.1)(-82,2.97)}
\lne{(-85,2.84)(-78,2.82)(-72,2.84)}\lne{(-84,2.9)(-76,2.87)(-70,2.9)}\lne{(-80,2.8)(-74,2.79)(-69,2.84)}
\flt{white}{(-95,2.8)(-90,2.8)(-85,3)(-85,3.1)(-95,3.1)}
\addplot[c15,line width=2.4pt,mark=none] coordinates {(-90,2.8)(-85,3)(-60,3)};
% lobes
\reg{c9}{(-75,2.21)(-67,2.15)(-50.5,2.15)(-37,2.18)(-32,2.26)(-37,2.34)(-53.5,2.37)(-67,2.3)}
\reg{c10}{(-65,2.21)(-53.5,2.18)(-38,2.21)(-35.5,2.27)(-39.5,2.34)(-53.5,2.34)(-63,2.28)}
\reg{c11}{(-57,2.27)(-49,2.22)(-38,2.24)(-39,2.29)(-48,2.3)(-55,2.3)}
\reg{c9}{(43.5,2.18)(57.5,2.16)(90,2.22)(95,2.22)(95,2.4)(90,2.4)(65,2.32)(50,2.26)}
\reg{c10}{(47,2.2)(57.5,2.2)(90,2.24)(95,2.24)(95,2.38)(71,2.35)(53,2.26)}
\reg{c11}{(50,2.22)(71.5,2.25)(90,2.28)(95,2.28)(95,2.38)(75,2.32)}
\reg{c13}{(56,2.25)(71.5,2.27)(90,2.29)(95,2.29)(95,2.37)(80,2.34)(65,2.3)}
\flt{black}{(50,2.26)(65,2.3)(90,2.38)(95,2.38)(95,2.46)(90,2.46)(71,2.41)(55,2.33)}
\flt{black}{(-14,1.97)(0,1.97)(16,1.98)(20,2.01)(0,2.03)(-12,2)}
\lne{(-30,1.92)(-20,1.96)(-12,1.98)}\lne{(-28,1.95)(-20,1.98)(-12,1.99)}\lne{(38,1.93)(26,1.98)(18,1.99)}\lne{(36,1.96)(26,1.995)(18,2)}
\lab{-43.5}{-1.93}{3}{c6}\labn{26}{-1.6}{4}\lab{15}{-1.24}{3}{c6}\lab{41.5}{-.67}{2}{c4}\lab{23}{-.26}{3}{c6}\lab{-80}{.15}{6}{c12}\lab{18.5}{.16}{4}{c7}
\lab{-7}{.66}{5}{c10}\lab{-32.5}{.77}{5}{c9}\lab{29.5}{1.08}{5}{c9}\lab{-8}{1.55}{6}{c11}\lab{-42}{2.1}{4}{c7}\labn{-16}{2.27}{1}\lab{60}{2.12}{4}{c7}\labn{-10}{1.95}{5}\labn{19}{2.03}{4}\labn{73}{2.18}{5}
\end{axis}
\begin{axis}[frameax,at={(96pt,-731pt)}]\end{axis}
%% ---------- PANEL D
\begin{axis}[part,at={(765.44pt,-731pt)}]
\flt{c9}{(-85,-2.1)(85,-2.1)(85,3.1)(-85,3.1)}
\preg{c8}{(-85,-.18)(-80,-.18)(-73.5,-.04)(-63.5,.05)(-49.5,.13)(-35.5,.22)(-16,.38)(0,.51)(19.5,.33)(36,.46)(49,.53)(60,.58)(70,.6)(80,.6)(85,.6)(85,-2.1)(-85,-2.1)}
\preg{c7}{(-85,-.39)(-80,-.39)(-66,-.21)(-49.5,-.09)(-38.5,.05)(-25.5,.14)(-10,.15)(1,.13)(25,.19)(46,.3)(64,.35)(80,.34)(85,.34)(85,-2.1)(-85,-2.1)}
\preg{c8}{(-85,-1.99)(-80,-1.99)(-66,-1.97)(-55,-1.97)(-44,-1.89)(-41,-1.73)(-40,-1.52)(-35.5,-1.44)(-17,-1.38)(0,-1.42)(11,-1.42)(19.5,-1.36)(30,-1.36)(35,-1.44)(36.5,-1.64)(37,-2)(37,-2.1)(-85,-2.1)}
\preg{c9}{(-12,-2.1)(-12,-2)(-3,-1.78)(0,-1.74)(14.5,-1.77)(16,-1.87)(10,-2)(10,-2.1)}
\preg{c6}{(-85,-1.64)(-80,-1.64)(-70.5,-1.58)(-60.5,-1.59)(-49.5,-1.24)(-45.5,-1.13)(-40,-1.15)(-34,-1.13)(-20,-1.23)(0,-1.27)(18,-1.2)(32,-1.17)(42,-1.27)(45.5,-1.55)(50,-1.86)(58,-2)(58,-2.1)(85,-2.1)(85,.14)(80,.14)(61.5,.16)(42,.08)(18,0)(0,-.13)(-25.5,-.02)(-35.5,-.09)(-48,-.24)(-63.5,-.4)(-80,-.52)(-85,-.52)}
\preg{c5}{(-85,-1.32)(-80,-1.32)(-70.5,-1.25)(-65,-1.11)(-63,-.89)(-65,-.74)(-70,-.68)(-80,-.69)(-85,-.69)}
\preg{c5}{(77,-2.1)(77,-2)(74,-1.92)(61,-1.83)(54,-1.67)(53,-1.42)(46,-1.02)(36,-.96)(28.5,-.97)(18,-1.03)(0,-1.1)(-17,-1.01)(-24,-.8)(-32.5,-.63)(-39.5,-.49)(-42,-.36)(-38,-.26)(-24,-.19)(-3,-.32)(12,-.35)(20.5,-.24)(42,-.12)(60,-.14)(80,-.07)(85,-.07)(85,-2.1)}
\preg{c4}{(85,-1.75)(80,-1.73)(68.5,-1.67)(63.5,-1.44)(65,-1.14)(68.5,-.74)(80,-.5)(85,-.47)}
%
\preg{c8}{(-85,1.34)(-80,1.34)(-66,1.34)(-56,1.25)(-41,1.12)(-38,1.16)(-39,1.34)(-46.5,1.53)(-58,1.59)(-56,1.7)(-46.5,1.78)(-40,1.9)(-35.5,1.99)(-30,2.03)(43,2.03)(53,1.9)(53.5,1.81)(52.5,1.68)(54,1.57)(67,1.45)(80,1.4)(85,1.4)(85,3.1)(-85,3.1)}
\preg{c9}{(-85,1.57)(-80,1.57)(-75,1.54)(-69,1.59)(-68.5,1.75)(-67.5,1.82)(-70,1.89)(-75,1.85)(-80,1.78)(-85,1.78)}
\preg{c10}{(-85,.3)(-80,.3)(-63.5,.3)(-51,.25)(-40,.3)(-32.5,.41)(-27,.53)(-25.5,.61)(-29,.72)(-37,.78)(-44,1.02)(-52.5,1.17)(-61,1.25)(-80,1.28)(-85,1.28)}
\preg{c11}{(-85,.44)(-80,.44)(-66,.46)(-52,.43)(-45,.5)(-44.5,.5)(-46,.66)(-52.5,.91)(-61,1.12)(-69.5,1.2)(-80,1.23)(-85,1.23)}
\preg{c12}{(-85,.55)(-80,.55)(-70,.57)(-61,.61)(-56.5,.72)(-57.5,.88)(-64,1.08)(-71,1.16)(-80,1.19)(-85,1.19)}
\preg{c13}{(-85,.66)(-80,.66)(-70.5,.68)(-63.5,.78)(-62,.89)(-65,1.03)(-72,1.12)(-80,1.15)(-85,1.15)}
\preg{c14}{(-85,.75)(-80,.75)(-72,.81)(-68,.91)(-68.5,1.02)(-74,1.09)(-80,1.12)(-85,1.12)}
\preg{c15}{(-85,.83)(-80,.83)(-72.5,.94)(-77.5,1.03)(-80,1.08)(-85,1.08)}
\preg{c10}{(-11.5,.95)(-7,.86)(0,.81)(7,.86)(10,.92)(23.5,.94)(23.5,1.03)(15,1.06)(7,1.16)(6.5,1.28)(19.5,1.37)(35,1.37)(37.5,1.56)(42,1.81)(39,1.95)(18,2.01)(-21,2.02)(-30,1.99)(-32.5,1.81)(-32.5,1.62)(-27,1.5)(-14,1.34)(-11,1.25)}
\preg{c9}{(-2.5,1.26)(0,1.21)(3,1.26)(0,1.3)}
\preg{c10}{(48,1.16)(57.5,1.05)(64.5,1.06)(59,1.17)(50,1.23)}
\preg{c11}{(-24.5,1.82)(-20,1.7)(0,1.65)(15,1.68)(31.5,1.79)(32,1.9)(21,1.95)(-10,1.97)(-23,1.92)}
%
\preg{c7}{(-85,2.14)(-80,2.14)(-69,2.24)(-55,2.32)(-45,2.3)(-38.5,2.2)(-31,2.11)(-17,2.08)(39,2.08)(49,2.24)(60,2.3)(80,2.42)(85,2.42)(85,3.1)(-85,3.1)}
\preg{c6}{(-85,2.3)(-80,2.3)(-63.5,2.37)(-44,2.38)(-35.5,2.24)(-27,2.13)(-15.5,2.1)(35,2.1)(45,2.24)(57.5,2.38)(80,2.47)(85,2.47)(85,3.1)(-85,3.1)}
\preg{c5}{(-85,2.4)(-80,2.4)(-44,2.43)(-34,2.3)(-25.5,2.16)(-14,2.13)(33.5,2.13)(42,2.26)(54.5,2.41)(80,2.52)(85,2.52)(85,3.1)(-85,3.1)}
\preg{c4}{(-85,2.48)(-80,2.48)(-38.5,2.48)(-31,2.37)(-23,2.2)(-13,2.16)(30.5,2.16)(39,2.29)(51.5,2.46)(80,2.55)(85,2.55)(85,3.1)(-85,3.1)}
\preg{c3}{(-85,2.56)(-80,2.56)(-30,2.55)(-24,2.44)(-20,2.3)(-13,2.2)(30,2.2)(39,2.33)(51.5,2.5)(80,2.57)(85,2.57)(85,3.1)(-85,3.1)}
\preg{c2}{(-69.5,2.69)(-60.5,2.61)(-30,2.56)(-24,2.46)(-20,2.34)(0,2.26)(18,2.27)(30.5,2.35)(40.5,2.52)(58,2.59)(80,2.71)(60.5,2.75)(36.5,2.74)(18,2.68)(-10,2.68)(-25.5,2.71)(-43,2.8)(-32.5,2.85)(-20,2.89)(22,2.83)(25,2.9)(20,3)(20,3.1)(-67.7,3.1)(-66,2.83)(-53.5,2.79)}
\preg{c2}{(-85,2.74)(-80,2.74)(-74.5,2.74)(-70,2.72)(-68.5,2.85)(-85,2.85)}
\flt{white}{(-85,2.85)(-67.7,2.85)(-67.7,3.1)(-85,3.1)}
\preg{c1}{(-67.7,3.1)(-67.7,2.91)(-62,2.9)(-56.5,2.96)(-53,3.1)}
\preg{c1}{(-41,3.1)(-40,2.97)(-37.5,3.1)}
\preg{c4}{(40,3.1)(47,2.91)(60,2.95)(70,2.91)(80,2.85)(85,2.85)(85,3.1)}
\preg{c3}{(75.5,3.1)(80,2.96)(85,2.96)(85,3.1)}
\lab{-15.5}{-1.39}{4}{c7}\lab{28.5}{-.97}{3}{c6}\lab{16}{-.3}{3}{c6}\lab{9}{.11}{4}{c7}\lab{-32}{.43}{5}{c9}\labn{22}{.98}{5}\labn{10}{2.03}{4}\labn{10}{2.2}{2}\lab{21}{1.97}{5}{c9}
\end{axis}
\begin{axis}[frameax,at={(736pt,-731pt)}]\end{axis}
%% ---------- COLOUR BAR
\begin{axis}[scale only axis,anchor=north west,at={(293pt,-1358pt)},width=677pt,height=23pt,xmin=0,xmax=8,ymin=0,ymax=1,
 axis line style={draw=none},ytick=\empty,xtick={0,1,2,3,4,5,6,7,8},major tick length=0pt,
 tick label style={font=\fontsize{26}{26}\selectfont},xticklabel style={yshift=-12pt,xshift=2pt},
 xticklabels={0,1,2,3,4,5,6,7,8}]
\addplot[fill=c0,draw=black!75,line width=.7pt] coordinates {(0,0)(.5,0)(.5,1)(0,1)} -- cycle;
\addplot[fill=c1,draw=black!75,line width=.7pt] coordinates {(.5,0)(1,0)(1,1)(.5,1)} -- cycle;
\addplot[fill=c2,draw=black!75,line width=.7pt] coordinates {(1,0)(1.5,0)(1.5,1)(1,1)} -- cycle;
\addplot[fill=c3,draw=black!75,line width=.7pt] coordinates {(1.5,0)(2,0)(2,1)(1.5,1)} -- cycle;
\addplot[fill=c4,draw=black!75,line width=.7pt] coordinates {(2,0)(2.5,0)(2.5,1)(2,1)} -- cycle;
\addplot[fill=c5,draw=black!75,line width=.7pt] coordinates {(2.5,0)(3,0)(3,1)(2.5,1)} -- cycle;
\addplot[fill=c6,draw=black!75,line width=.7pt] coordinates {(3,0)(3.5,0)(3.5,1)(3,1)} -- cycle;
\addplot[fill=c7,draw=black!75,line width=.7pt] coordinates {(3.5,0)(4,0)(4,1)(3.5,1)} -- cycle;
\addplot[fill=c8,draw=black!75,line width=.7pt] coordinates {(4,0)(4.5,0)(4.5,1)(4,1)} -- cycle;
\addplot[fill=c9,draw=black!75,line width=.7pt] coordinates {(4.5,0)(5,0)(5,1)(4.5,1)} -- cycle;
\addplot[fill=c10,draw=black!75,line width=.7pt] coordinates {(5,0)(5.5,0)(5.5,1)(5,1)} -- cycle;
\addplot[fill=c11,draw=black!75,line width=.7pt] coordinates {(5.5,0)(6,0)(6,1)(5.5,1)} -- cycle;
\addplot[fill=c12,draw=black!75,line width=.7pt] coordinates {(6,0)(6.5,0)(6.5,1)(6,1)} -- cycle;
\addplot[fill=c13,draw=black!75,line width=.7pt] coordinates {(6.5,0)(7,0)(7,1)(6.5,1)} -- cycle;
\addplot[fill=c14,draw=black!75,line width=.7pt] coordinates {(7,0)(7.5,0)(7.5,1)(7,1)} -- cycle;
\addplot[fill=c15,draw=black!75,line width=.7pt] coordinates {(7.5,0)(8,0)(8,1)(7.5,1)} -- cycle;
\end{axis}
%% ---------- TEXT
\T{1000}{1414}{base west}{\fontsize{27}{27}\selectfont}{[10\textsuperscript{-4}\;\, s\textsuperscript{-2}]}
\T{10}{38}{base west}{\pan}{(a)}\T{654}{38}{base west}{\pan}{(b)}\T{12}{703}{base west}{\pan}{(c)}\T{654}{703}{base west}{\pan}{(d)}
\T{102}{45}{base west}{\ttl}{JAN}\T{362}{45}{base}{\ttl}{GCM}
\T{745}{45}{base west}{\ttl}{JAN}\T{993}{45}{base}{\ttl}{CIRA86}
\T{108}{711}{base west}{\ttl}{JUL}\T{362}{711}{base}{\ttl}{GCM}
\T{745}{711}{base west}{\ttl}{JUL}\T{993}{711}{base}{\ttl}{CIRA86}
\T{362}{663}{base}{\axfontb}{Latitude}\T{1003}{663}{base}{\axfontb}{Latitude}
\T{362}{1329}{base}{\axfontb}{Latitude}\T{1003}{1329}{base}{\axfontb}{Latitude}
\node[rotate=90,anchor=base,font=\axfontb,inner sep=0pt,text=black!90] at (35pt,-325pt) {Pressure [hPa]};
\node[rotate=90,anchor=base,font=\axfontb,inner sep=0pt,text=black!90] at (676pt,-325pt) {Pressure [hPa]};
\node[rotate=90,anchor=base,font=\axfontb,inner sep=0pt,text=black!90] at (35pt,-991pt) {Pressure [hPa]};
\node[rotate=90,anchor=base,font=\axfontb,inner sep=0pt,text=black!90] at (676pt,-991pt) {Pressure [hPa]};
\end{tikzpicture}
\end{document}
